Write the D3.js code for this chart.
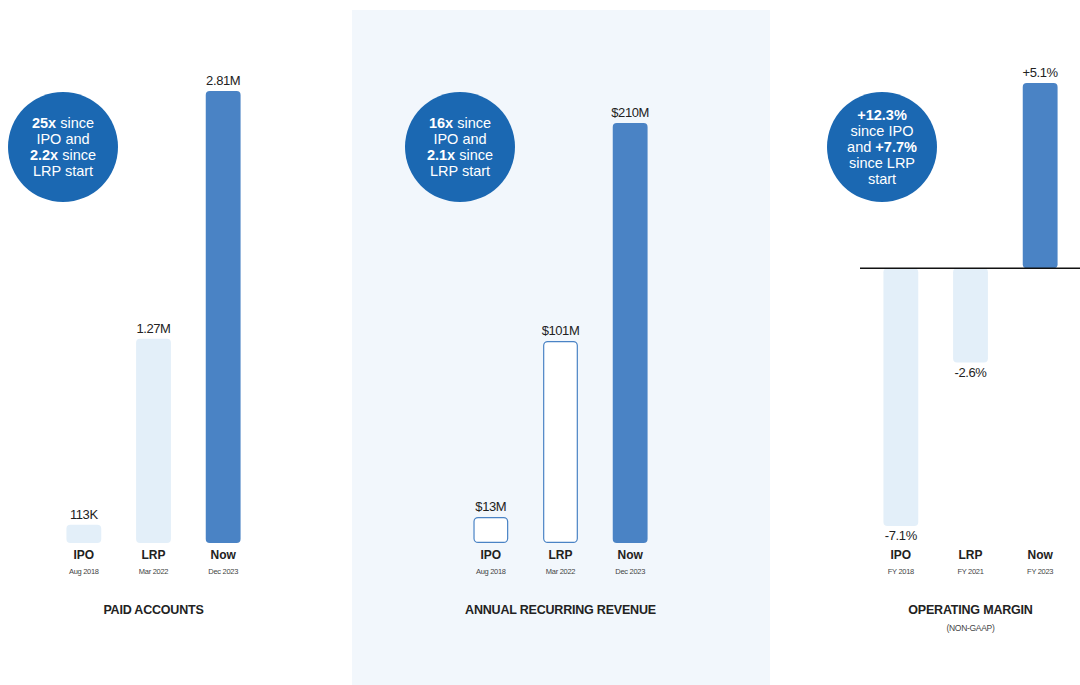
<!DOCTYPE html>
<html><head><meta charset="utf-8">
<script src="https://cdn.jsdelivr.net/npm/d3@7"></script>
<style>
html,body{margin:0;padding:0;background:#fff;}
svg text{font-family:"Liberation Sans",Arial,sans-serif;}
</style></head>
<body><svg id="c" width="1080" height="685"></svg>
<script>
const categories = ["IPO","LRP","Now"];
const accountsDates = ["Aug 2018","Mar 2022","Dec 2023"];
const accountsValues = [0.113, 1.27, 2.81];
const accountsLabels = ["113K","1.27M","2.81M"];
const arrDates = ["Aug 2018","Mar 2022","Dec 2023"];
const arrValues = [13, 101, 210];
const arrLabels = ["$13M","$101M","$210M"];
const marginDates = ["FY 2018","FY 2021","FY 2023"];
const marginValues = [-7.1, -2.6, 5.1];
const marginLabels = ["-7.1%","-2.6%","+5.1%"];

const svg = d3.select("#c");
const LIGHT = "#e3eff9", DARK = "#4a83c5", CIRC = "#1b68b2", TXT = "#222";

svg.append("rect").attr("x",352).attr("y",10).attr("width",418).attr("height",675).attr("fill","#f2f7fc");

function panel(opt){
  const g = svg.append("g");
  const x = d3.scaleBand().domain(categories).range([opt.x0, opt.x0+209]).paddingInner(0.5).paddingOuter(0.25);
  const y = d3.scaleLinear().domain(opt.domain).range(opt.range);
  const bw = x.bandwidth();
  categories.forEach((c,i)=>{
    const v = opt.values[i];
    const top = Math.min(y(v), y(0)), h = Math.abs(y(v)-y(0));
    const style = opt.styles[i];
    const r = g.append("rect").attr("x",x(c)).attr("y",top).attr("width",bw).attr("height",h).attr("rx",4);
    if(style==="outline"){
      r.attr("fill","#fff").attr("stroke",DARK).attr("stroke-width",1.2)
       .attr("x",x(c)+0.6).attr("width",bw-1.2).attr("y",top+0.6).attr("height",h-1.2);
    } else r.attr("fill", style==="dark"?DARK:LIGHT);
    const ly = v>=0 ? y(v)-6 : y(v)+14;
    g.append("text").attr("x",x(c)+bw/2).attr("y",ly).attr("text-anchor","middle")
      .attr("font-size",13).attr("fill",TXT).attr("letter-spacing","-0.4").text(opt.labels[i]);
    g.append("text").attr("x",x(c)+bw/2).attr("y",559).attr("text-anchor","middle")
      .attr("font-size",12).attr("font-weight","bold").attr("fill",TXT).text(c);
    g.append("text").attr("x",x(c)+bw/2).attr("y",574).attr("text-anchor","middle")
      .attr("font-size",7.5).attr("fill","#444").attr("letter-spacing","-0.3").text(opt.dates[i]);
  });
  if(opt.axis){
    g.append("line").attr("x1",860).attr("x2",1080).attr("y1",y(0)).attr("y2",y(0))
      .attr("stroke","#111").attr("stroke-width",1.5);
  }
  g.append("text").attr("x",x(categories[1])+bw/2).attr("y",614).attr("text-anchor","middle")
    .attr("font-size",12.5).attr("font-weight","bold").attr("fill",TXT).attr("letter-spacing","-0.2").text(opt.title);
  if(opt.subtitle) g.append("text").attr("x",x(categories[1])+bw/2).attr("y",631).attr("text-anchor","middle")
    .attr("font-size",8.5).attr("fill","#444").attr("letter-spacing","-0.3").text(opt.subtitle);
  g.append("circle").attr("cx",opt.cx).attr("cy",147).attr("r",55).attr("fill",CIRC);
  const t = g.append("text").attr("text-anchor","middle").attr("font-size",14.5).attr("fill","#fff");
  const ystart = 147 - (opt.lines.length-1)*16/2 + 5;
  opt.lines.forEach((ln,i)=>{
    const ts = t.append("tspan").attr("x",opt.cx).attr("y",ystart+i*16);
    ln.forEach(seg=>{
      ts.append("tspan").attr("font-weight",seg[1]?"bold":"normal").text(seg[0]);
    });
  });
}

panel({x0:49, values:accountsValues, labels:accountsLabels, dates:accountsDates,
  domain:[0,2.81], range:[543,91], styles:["light","light","dark"], title:"PAID ACCOUNTS",
  cx:63, lines:[[["25x",1],[" since",0]],[["IPO and",0]],[["2.2x",1],[" since",0]],[["LRP start",0]]]});
panel({x0:456, values:arrValues, labels:arrLabels, dates:arrDates,
  domain:[0,210], range:[543,123], styles:["outline","outline","dark"], title:"ANNUAL RECURRING REVENUE",
  cx:460, lines:[[["16x",1],[" since",0]],[["IPO and",0]],[["2.1x",1],[" since",0]],[["LRP start",0]]]});
panel({x0:866, values:marginValues, labels:marginLabels, dates:marginDates,
  domain:[-7.1,5.1], range:[526,83], styles:["light","light","dark"], title:"OPERATING MARGIN", subtitle:"(NON-GAAP)", axis:true,
  cx:882, lines:[[["+12.3%",1]],[["since IPO",0]],[["and ",0],["+7.7%",1]],[["since LRP",0]],[["start",0]]]});
</script></body></html>
